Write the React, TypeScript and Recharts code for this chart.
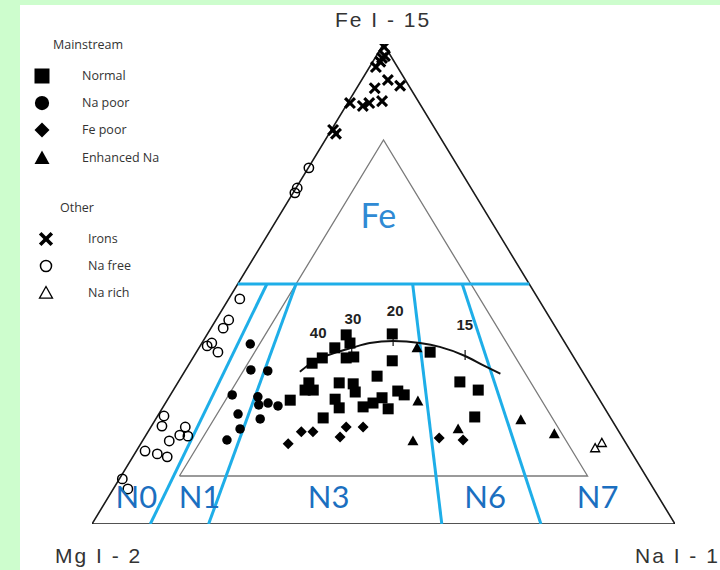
import React from "react";
import { ScatterChart, Scatter, XAxis, YAxis } from "recharts";

// ternary compositions as [Fe %, Na %]; Mg % is what is left
const irons = [
  [99.4, 0.4], [97.1, 1.2], [97.5, 1.5], [96.3, 1.3], [95.2, 1.1], [92.5, 4.5], [90.8, 3.1],
  [91.3, 7.2], [87.7, 0.4], [87.1, 2.9], [87.7, 3.7], [88.1, 5.7], [82.1, 0.3], [81.3, 1.2],
];
const naFree = [
  [74.2, 0.1], [70.0, 0.2], [69.0, 0.3], [46.9, 1.9], [42.5, 2.2], [40.8, 2.1], [37.1, 1.2],
  [37.7, 1.7], [35.8, 3.7], [22.5, 1.1], [20.4, 1.8], [17.3, 4.6], [20.2, 5.9], [18.5, 5.8],
  [18.3, 7.3], [15.2, 1.5], [14.6, 3.9], [14.0, 5.9], [9.4, 0.5], [7.3, 2.5],
];
const naRich = [[15.8, 78.4], [16.9, 79.0]];
const naPoor = [
  [37.5, 8.4], [32.1, 11.2], [31.9, 14.2], [26.9, 10.6], [26.5, 15.2], [24.8, 16.2],
  [25.2, 17.6], [24.6, 19.6], [22.9, 13.6], [21.9, 17.9], [19.8, 15.5], [17.5, 14.4],
];
const normal = [
  [25.8, 21.1], [27.9, 22.6], [29.4, 22.5], [27.9, 24.0], [33.5, 21.0], [34.6, 22.2],
  [36.7, 23.3], [39.4, 23.9], [37.7, 25.4], [34.6, 26.3], [34.8, 27.5], [29.4, 27.7],
  [29.2, 30.2], [27.5, 31.4], [26.0, 28.7], [24.2, 30.3], [22.1, 28.6], [24.4, 34.3],
  [25.2, 35.6], [26.3, 36.6], [24.0, 38.8], [27.7, 38.6], [26.9, 40.1], [30.8, 33.5],
  [34.0, 34.5], [39.6, 31.7], [35.8, 40.1], [29.6, 48.3], [27.9, 52.3], [22.3, 54.5],
];
const fePoor = [
  [16.7, 25.3], [19.2, 26.3], [19.2, 28.3], [18.1, 33.5], [20.2, 33.5], [20.2, 36.4],
  [17.9, 50.6], [17.5, 54.9],
];
const enhancedNa = [[36.7, 37.4], [25.6, 43.1], [17.3, 46.4], [19.8, 52.9], [21.7, 62.7], [18.8, 69.9]];

// trend curve, its tick marks and labels
const trendCurve = [
  [31.7, 19.8], [33.8, 21.0], [35.8, 24.1], [36.7, 26.2], [37.7, 28.8], [38.1, 32.6],
  [37.7, 37.4], [36.9, 41.2], [35.0, 46.5], [33.1, 50.5], [31.3, 54.4],
];
const trendTicks = [[36.7, 26.2], [38.1, 32.6], [35.2, 46.4]];
const trendLabels = ["40", "30", "20", "15"];
const trendLabelPos = [[40.0, 18.8], [42.9, 23.3], [44.4, 29.8], [41.5, 43.2]];

// Na/(Na+Mg) boundaries below Fe = 50
const nRatios = [0.1, 0.2, 0.6, 0.77];
const nLabels = ["N0", "N1", "N3", "N6", "N7"];
const nLabelRatios = [0.05, 0.165, 0.4, 0.685, 0.89];

const toXY = ([fe, na]: number[]) => ({ x: na + fe / 2, y: fe });
const pts = (arr: number[][]) => arr.map(toXY);

const outerTri = [[0, 0], [0, 100], [100, 0], [0, 0]];
const innerTri = [[10, 10], [10, 80], [80, 10], [10, 10]];
const fe50 = [[50, 0], [50, 50]];

const BLUE_LINE = "#1eaee8";
const BLUE_TEXT = "#1b6fc0";

function Marker({ kind, cx, cy, s }: { kind: string; cx: number; cy: number; s: number }) {
  const h = s / 2;
  switch (kind) {
    case "square":
      return <rect x={cx - h} y={cy - h} width={s} height={s} fill="#000" />;
    case "circle":
      return <circle cx={cx} cy={cy} r={h * 0.95} fill="#000" />;
    case "diamond":
      return <polygon points={`${cx},${cy - h} ${cx + h},${cy} ${cx},${cy + h} ${cx - h},${cy}`} fill="#000" />;
    case "triangle":
      return <polygon points={`${cx},${cy - h} ${cx + h},${cy + h * 0.8} ${cx - h},${cy + h * 0.8}`} fill="#000" />;
    case "x":
      return (
        <g stroke="#000" strokeWidth={s / 3.6} strokeLinecap="square">
          <line x1={cx - h * 0.7} y1={cy - h * 0.7} x2={cx + h * 0.7} y2={cy + h * 0.7} />
          <line x1={cx - h * 0.7} y1={cy + h * 0.7} x2={cx + h * 0.7} y2={cy - h * 0.7} />
        </g>
      );
    case "ocircle":
      return <circle cx={cx} cy={cy} r={h * 0.85} fill="none" stroke="#000" strokeWidth={1.5} />;
    case "otriangle":
      return (
        <polygon
          points={`${cx},${cy - h} ${cx + h},${cy + h * 0.8} ${cx - h},${cy + h * 0.8}`}
          fill="none"
          stroke="#000"
          strokeWidth={1.3}
        />
      );
    default:
      return <g />;
  }
}

const markerShape = (kind: string, s: number) => (p: any) => <Marker kind={kind} cx={p.cx} cy={p.cy} s={s} />;
const noShape = () => <g />;
const tickShape = (p: any) => <line x1={p.cx} y1={p.cy - 5} x2={p.cx} y2={p.cy + 5} stroke="#111" strokeWidth={1.2} />;
const textShape = (size: number, color: string, family: string, weight = 400) => (p: any) => (
  <text
    x={p.cx}
    y={p.cy}
    textAnchor="middle"
    dominantBaseline="central"
    fontSize={size}
    fontWeight={weight}
    fill={color}
    fontFamily={family}
  >
    {p.payload?.label}
  </text>
);

const legendMain = [
  { kind: "square", label: "Normal", y: 76 },
  { kind: "circle", label: "Na poor", y: 103 },
  { kind: "diamond", label: "Fe poor", y: 130 },
  { kind: "triangle", label: "Enhanced Na", y: 158 },
];
const legendOther = [
  { kind: "x", label: "Irons", y: 239 },
  { kind: "ocircle", label: "Na free", y: 266 },
  { kind: "otriangle", label: "Na rich", y: 293 },
];

export default function App() {
  const lineSeries = [
    { key: "outer", data: pts(outerTri), stroke: "#1a1a1a", width: 1.6 },
    { key: "inner", data: pts(innerTri), stroke: "#7a7a7a", width: 1.3 },
    { key: "fe50", data: pts(fe50), stroke: BLUE_LINE, width: 3 },
    ...nRatios.map((r, i) => ({
      key: `n${i}`,
      data: pts([[50, 50 * r], [0, 100 * r]]),
      stroke: BLUE_LINE,
      width: 3,
    })),
  ];
  const nLabelData = nLabels.map((label, i) => ({ ...toXY([5.8, 94.2 * nLabelRatios[i]]), label }));
  const feLabelData = [{ ...toXY([64.4, 16.9]), label: "Fe" }];
  const trendLabelData = trendLabels.map((label, i) => ({ ...toXY(trendLabelPos[i]), label }));

  const legendFont = { fontFamily: "'Open Sans', sans-serif", fontSize: 12.5, fill: "#333" };
  const cornerFont = { fontFamily: "'Liberation Sans', Arial, sans-serif", fontSize: 21, fill: "#333", letterSpacing: 2 };

  return (
    <div style={{ position: "fixed", left: 0, top: 0, width: 720, height: 570, background: "#cdfdcd", overflow: "hidden" }}>
      <div style={{ position: "absolute", left: 20, top: 5, width: 700, height: 565, background: "#fff" }} />
      <div style={{ position: "absolute", left: 0, top: 0 }}>
        <ScatterChart width={720} height={570} margin={{ top: 44, right: 45, bottom: 46, left: 92 }}>
          <XAxis type="number" dataKey="x" domain={[0, 100]} hide allowDataOverflow />
          <YAxis type="number" dataKey="y" domain={[0, 100]} hide allowDataOverflow />
          {lineSeries.map((l) => (
            <Scatter
              key={l.key}
              data={l.data}
              line={{ stroke: l.stroke, strokeWidth: l.width }}
              lineType="joint"
              shape={noShape}
              isAnimationActive={false}
            />
          ))}
          <Scatter
            data={pts(trendCurve)}
            line={{ stroke: "#111", strokeWidth: 2 }}
            lineType="joint"
            lineJointType="monotoneX"
            shape={noShape}
            isAnimationActive={false}
          />
          <Scatter data={pts(trendTicks)} shape={tickShape} isAnimationActive={false} />
          <Scatter data={pts(naFree)} shape={markerShape("ocircle", 11)} isAnimationActive={false} />
          <Scatter data={pts(naRich)} shape={markerShape("otriangle", 9)} isAnimationActive={false} />
          <Scatter data={pts(irons)} shape={markerShape("x", 11)} isAnimationActive={false} />
          <Scatter data={pts(naPoor)} shape={markerShape("circle", 10)} isAnimationActive={false} />
          <Scatter data={pts(normal)} shape={markerShape("square", 11)} isAnimationActive={false} />
          <Scatter data={pts(fePoor)} shape={markerShape("diamond", 11)} isAnimationActive={false} />
          <Scatter data={pts(enhancedNa)} shape={markerShape("triangle", 11)} isAnimationActive={false} />
          <Scatter data={trendLabelData} shape={textShape(15, "#222", "'Liberation Sans', Arial, sans-serif", 600)} isAnimationActive={false} />
          <Scatter data={nLabelData} shape={textShape(31, BLUE_TEXT, "Lato, sans-serif")} isAnimationActive={false} />
          <Scatter data={feLabelData} shape={textShape(34, "#2f8ad4", "Lato, sans-serif")} isAnimationActive={false} />
        </ScatterChart>
      </div>
      <svg width={720} height={570} style={{ position: "absolute", left: 0, top: 0, pointerEvents: "none" }}>
        <text x={383} y={27} textAnchor="middle" {...cornerFont}>Fe I - 15</text>
        <text x={55} y={563} {...cornerFont}>Mg I - 2</text>
        <text x={635} y={563} {...cornerFont}>Na I - 1</text>
        <text x={53} y={49} {...legendFont}>Mainstream</text>
        {legendMain.map((l) => (
          <g key={l.label}>
            <Marker kind={l.kind} cx={42} cy={l.y} s={15} />
            <text x={82} y={l.y + 4} {...legendFont}>{l.label}</text>
          </g>
        ))}
        <text x={60} y={212} {...legendFont}>Other</text>
        {legendOther.map((l) => (
          <g key={l.label}>
            <Marker kind={l.kind} cx={46} cy={l.y} s={13} />
            <text x={88} y={l.y + 4} {...legendFont}>{l.label}</text>
          </g>
        ))}
      </svg>
    </div>
  );
}
